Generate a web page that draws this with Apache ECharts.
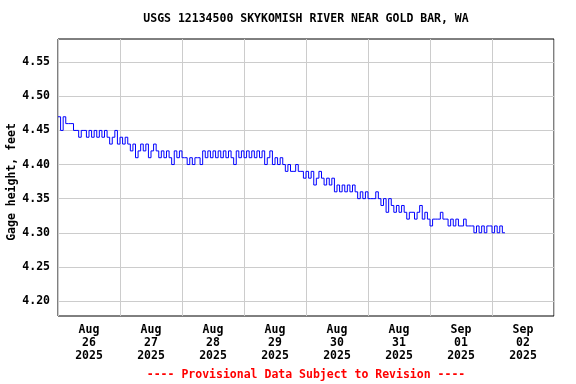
<!DOCTYPE html>
<html>
<head>
<meta charset="utf-8">
<style>html,body{margin:0;padding:0;background:#fff;}#chart{width:576px;height:384px;}</style>
<script src="https://cdn.jsdelivr.net/npm/echarts@6/dist/echarts.min.js"></script>
</head>
<body>
<div id="chart"></div>
<script>
// Tick labels
const dayLabels = ["Aug\n26\n2025", "Aug\n27\n2025", "Aug\n28\n2025", "Aug\n29\n2025",
                   "Aug\n30\n2025", "Aug\n31\n2025", "Sep\n01\n2025", "Sep\n02\n2025"];
const yTicks = [4.20, 4.25, 4.30, 4.35, 4.40, 4.45, 4.50, 4.55];

// Hourly gage height (feet), starting Aug 26 2025 00:00
const aug26 = [4.47, 4.45, 4.47, 4.46, 4.46, 4.46, 4.45, 4.45, 4.44, 4.45, 4.45, 4.44,
               4.45, 4.44, 4.45, 4.44, 4.45, 4.44, 4.45, 4.44, 4.43, 4.44, 4.45, 4.43];
const aug27 = [4.44, 4.43, 4.44, 4.43, 4.42, 4.43, 4.41, 4.42, 4.43, 4.42, 4.43, 4.41,
               4.42, 4.43, 4.42, 4.41, 4.42, 4.41, 4.42, 4.41, 4.40, 4.42, 4.41, 4.42];
const aug28 = [4.41, 4.41, 4.40, 4.41, 4.40, 4.41, 4.41, 4.40, 4.42, 4.41, 4.42, 4.41,
               4.42, 4.41, 4.42, 4.41, 4.42, 4.41, 4.42, 4.41, 4.40, 4.42, 4.41, 4.42];
const aug29 = [4.41, 4.42, 4.41, 4.42, 4.41, 4.42, 4.41, 4.42, 4.40, 4.41, 4.42, 4.40,
               4.41, 4.40, 4.41, 4.40, 4.39, 4.40, 4.39, 4.39, 4.40, 4.39, 4.39, 4.38];
const aug30 = [4.39, 4.38, 4.39, 4.37, 4.38, 4.39, 4.38, 4.37, 4.38, 4.37, 4.38, 4.36,
               4.37, 4.36, 4.37, 4.36, 4.37, 4.36, 4.37, 4.36, 4.35, 4.36, 4.35, 4.36];
const aug31 = [4.35, 4.35, 4.35, 4.36, 4.35, 4.34, 4.35, 4.33, 4.35, 4.34, 4.33, 4.34,
               4.33, 4.34, 4.33, 4.32, 4.33, 4.33, 4.32, 4.33, 4.34, 4.32, 4.33, 4.32];
const sep01 = [4.31, 4.32, 4.32, 4.32, 4.33, 4.32, 4.32, 4.31, 4.32, 4.31, 4.32, 4.31,
               4.31, 4.32, 4.31, 4.31, 4.31, 4.30, 4.31, 4.30, 4.31, 4.30, 4.31, 4.31];
const sep02 = [4.30, 4.31, 4.30, 4.31, 4.30, 4.30];

const gage = [].concat(aug26, aug27, aug28, aug29, aug30, aug31, sep01, sep02);
const seriesData = gage.map((v, i) => [i, v]); // x = hours since Aug 26 00:00

const FONT = 'DejaVu Sans Mono';
const chart = echarts.init(document.getElementById('chart'), null, {renderer: 'canvas'});
chart.setOption({
  backgroundColor: '#ffffff',
  animation: false,
  grid: {left: 58, right: 22, top: 39, bottom: 68, show: true, borderColor: '#000', borderWidth: 1, backgroundColor: 'transparent'},
  xAxis: [
    {
      type: 'value', min: 0, max: 192, interval: 24,
      axisLine: {show: false}, axisTick: {show: false}, axisLabel: {show: false},
      splitLine: {show: true, lineStyle: {color: '#cccccc', width: 1}}
    },
    {
      type: 'category', data: dayLabels, boundaryGap: true, position: 'bottom',
      axisLine: {show: false}, axisTick: {show: false}, splitLine: {show: false},
      axisLabel: {interval: 0, margin: 8, fontFamily: FONT, fontWeight: 'bold', fontSize: 11.5, lineHeight: 13, color: '#000'}
    }
  ],
  yAxis: {
    type: 'value', min: 4.178, max: 4.584,
    axisLine: {show: false},
    axisTick: {show: false, customValues: yTicks},
    axisLabel: {customValues: yTicks, margin: 8, fontFamily: FONT, fontWeight: 'bold', fontSize: 11.5, color: '#000',
                formatter: v => v.toFixed(2)},
    splitLine: {show: true, lineStyle: {color: '#cccccc', width: 1}}
  },
  series: [{
    type: 'line', xAxisIndex: 0, data: seriesData, step: 'end',
    showSymbol: false, symbol: 'none',
    lineStyle: {color: '#0000ff', width: 1}
  }],
  graphic: [
    {type: 'text', x: 306, y: 19, style: {text: 'USGS 12134500 SKYKOMISH RIVER NEAR GOLD BAR, WA', font: 'bold 11.5px "DejaVu Sans Mono"', fill: '#000', align: 'center', verticalAlign: 'middle'}},
    {type: 'text', x: 12, y: 182, rotation: Math.PI / 2, style: {text: 'Gage height, feet', font: 'bold 11.5px "DejaVu Sans Mono"', fill: '#000', align: 'center', verticalAlign: 'middle'}},
    {type: 'text', x: 306, y: 375, style: {text: '---- Provisional Data Subject to Revision ----', font: 'bold 11.5px "DejaVu Sans Mono"', fill: '#ff0000', align: 'center', verticalAlign: 'middle'}}
  ]
});
</script>
</body>
</html>
